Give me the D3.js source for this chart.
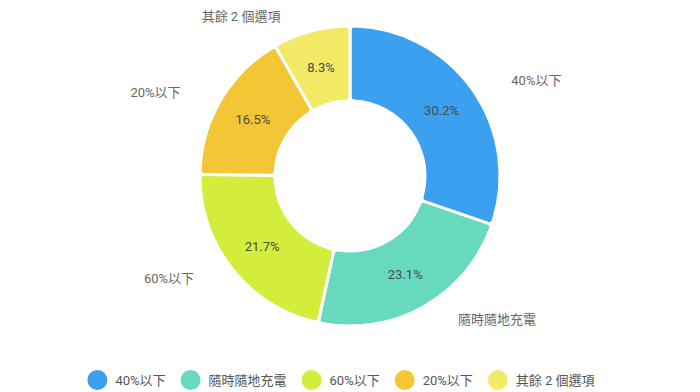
<html>
<head>
    <script src="https://cdn.jsdelivr.net/npm/d3@7"></script>
    <style>
        body { margin: 0; background: #fff; }
        text { font-family: Roboto, "Noto Sans CJK TC", sans-serif; }
    </style>
</head>
<body>
    <svg width="700" height="392" id="chart"></svg>
    <script>
        // Data
        const labels = ["40%以下", "隨時隨地充電", "60%以下", "20%以下", "其餘 2 個選項"];
        const values = [30.2, 23.1, 21.7, 16.5, 8.3];
        const colors = ["#3ba0f0", "#67d9be", "#d4ec3b", "#f2c634", "#f2ea65"];

        const svg = d3.select("#chart");
        const cx = 350, cy = 176;
        const outerR = 150, innerR = 75;

        const data = labels.map((l, i) => ({ label: l, value: values[i], color: colors[i] }));

        const pie = d3.pie().value(d => d.value).sort(null);
        const arcs = pie(data);

        const arc = d3.arc().innerRadius(innerR).outerRadius(outerR).cornerRadius(4);
        const midArc = d3.arc().innerRadius((innerR + outerR) / 2).outerRadius((innerR + outerR) / 2);

        const chart = svg.append("g").attr("transform", `translate(${cx}, ${cy})`);

        // Slices
        chart.selectAll("path.slice")
            .data(arcs)
            .join("path")
            .attr("class", "slice")
            .attr("d", arc)
            .attr("fill", d => d.data.color)
            .attr("stroke", "#fff")
            .attr("stroke-width", 3)
            .attr("stroke-linejoin", "round");

        // Percent labels inside
        chart.selectAll("text.pct")
            .data(arcs)
            .join("text")
            .attr("class", "pct")
            .attr("transform", d => `translate(${midArc.centroid(d)})`)
            .attr("text-anchor", "middle")
            .attr("dy", "0.35em")
            .attr("fill", "#4a4a4a")
            .style("font-size", "13px")
            .text(d => d.data.value.toFixed(1) + "%");

        // Outer labels (hidden label lines)
        const labelR = outerR + 15;
        const len2 = 27;
        chart.selectAll("text.outer")
            .data(arcs)
            .join("text")
            .attr("class", "outer")
            .each(function (d) {
                const a = (d.startAngle + d.endAngle) / 2;
                const x = Math.sin(a) * labelR;
                const y = -Math.cos(a) * labelR;
                const right = x >= 0;
                d3.select(this)
                    .attr("x", right ? x + len2 : x - len2)
                    .attr("y", y)
                    .attr("text-anchor", right ? "start" : "end");
            })
            .attr("dy", "0.35em")
            .attr("fill", "#666")
            .style("font-size", "13px")
            .text(d => d.data.label);

        // Legend
        const legend = svg.append("g").attr("transform", "translate(0, 380)");
        const items = legend.selectAll("g.item")
            .data(data)
            .join("g")
            .attr("class", "item");

        items.append("circle").attr("r", 10).attr("fill", d => d.color);
        items.append("text")
            .attr("x", 18)
            .attr("dy", "0.35em")
            .attr("fill", "#555")
            .style("font-size", "13px")
            .text(d => d.label);

        let widths = [];
        items.each(function () {
            widths.push(this.querySelector("text").getComputedTextLength());
        });
        const gap = 15;
        const total = widths.reduce((s, w) => s + 28 + w, 0) + gap * (widths.length - 1);
        let xPos = 341 - total / 2 + 10;
        items.each(function (d, i) {
            d3.select(this).attr("transform", `translate(${xPos}, 0)`);
            xPos += 28 + widths[i] + gap;
        });
    </script>
</body>
</html>
